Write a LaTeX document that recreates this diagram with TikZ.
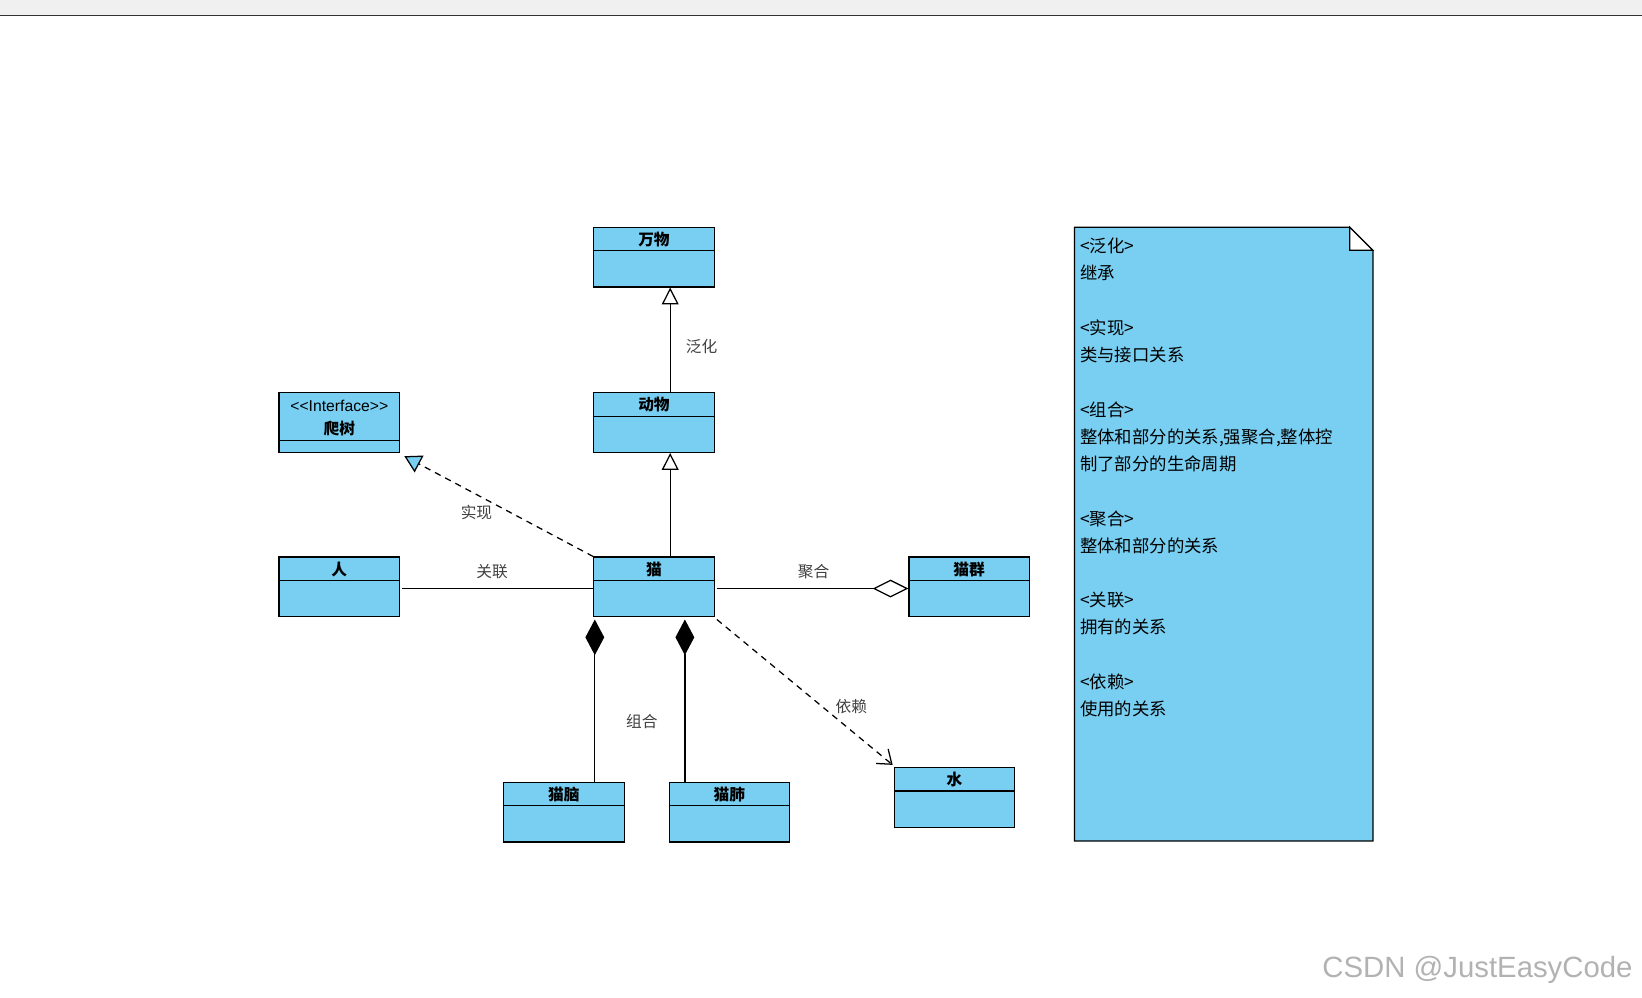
\documentclass[tikz,border=0pt]{standalone}
\usepackage{fontspec}
\setmainfont{Liberation Sans}
\newfontfamily\cjk{Noto Sans CJK SC}
\usetikzlibrary{arrows.meta,calc,shapes.geometric}
\definecolor{umlblue}{HTML}{79CFF2}
\begin{document}
\begin{tikzpicture}[x=0.5pt,y=-0.5pt,
  cls/.style={draw=black,fill=umlblue,line width=0.6pt,minimum width=57.5pt,minimum height=28.5pt,inner sep=0pt},
  ttl/.style={font=\cjk\fontsize{7.5}{8}\selectfont\bfseries},
  lbl/.style={font=\cjk\fontsize{7.5}{8}\selectfont,text=black!75},
  ln/.style={line width=0.6pt},
  dashln/.style={ln,dash pattern=on 3pt off 2.5pt}]
\useasboundingbox (0,0) rectangle (1568,953);
\fill[black!6] (0,0) rectangle (1568,15);
\draw[black!80,line width=0.6pt] (0,15) -- (1568,15);
% classes
\foreach \n/\cx/\cy/\t in {wanwu/624.5/245.5/万物, dongwu/624.5/403.5/动物, ren/324/560.5/人, mao/624.5/560.5/猫, maoqun/925.5/560.5/猫群, maonao/538.5/775.5/猫脑, maofei/696.5/775.5/猫肺, shui/911.5/761.5/水}{
  \node[cls] (\n) at (\cx,\cy) {};
  \draw[ln] ($(\n.north west)+(0,23)$) -- ($(\n.north east)+(0,23)$);
  \node[ttl] at ($(\n.north)+(0,12)$) {\t};
}
\node[cls] (pashu) at (324,403.5) {};
\draw[ln] ($(pashu.north west)+(0,46)$) -- ($(pashu.north east)+(0,46)$);
\node[font=\fontsize{7.5}{8}\selectfont] at ($(pashu.north)+(0,13)$) {{<}{<}Interface{>}{>}};
\node[ttl] at ($(pashu.north)+(0,35)$) {爬树};
% connectors
\draw[ln,-{Triangle[open,length=8pt,width=8pt]}] ($(dongwu.north)+(15.5,0)$) -- ($(wanwu.south)+(15.5,0)$);
\node[lbl] at (670,331) {泛化};
\draw[ln,-{Triangle[open,length=8pt,width=8pt]}] ($(mao.north)+(15.5,0)$) -- ($(dongwu.south)+(15.5,0)$);
\draw[dashln,-{Triangle[fill=umlblue,length=8pt,width=9pt]}] (mao.north west) -- ($(pashu.south east)+(4,3)$);
\node[lbl] at (455,489) {实现};
\draw[ln] ($(ren.east)+(2,1.5)$) -- ($(mao.west)+(0,1.5)$);
\node[lbl] at (470,546) {关联};
\draw[ln,-{Diamond[open,length=17pt,width=8.5pt]}] ($(mao.east)+(2,1.5)$) -- ($(maoqun.west)+(0,1.5)$);
\node[lbl] at (777,546) {聚合};
\draw[ln,-{Diamond[length=17pt,width=9pt]}] ($(maonao.north)+(29.5,0)$) -- ($(mao.south)+(-56.5,2)$);
\draw[ln,-{Diamond[length=17pt,width=9pt]}] ($(maofei.north)+(-42.5,0)$) -- ($(mao.south)+(29.5,2)$);
\node[lbl] at (613,689) {组合};
\draw[dashln,-{Straight Barb[length=6pt,width=9pt]}] ($(mao.south east)+(2,2)$) -- ($(shui.north west)+(-1,-2)$);
\node[lbl] at (813,675) {依赖};
% note
\draw[line width=0.6pt,fill=umlblue] (1026,217) -- (1289,217) -- (1311,239) -- (1311,803) -- (1026,803) -- cycle;
\draw[line width=0.6pt,fill=white] (1289,217) -- (1289,239) -- (1311,239) -- cycle;
\node[anchor=north west,align=left,inner sep=0pt,font=\cjk\fontsize{8.3}{13}\selectfont] (note) at (1031,227) {<泛化>\\继承\\[13pt]<实现>\\类与接口关系\\[13pt]<组合>\\整体和部分的关系,强聚合,整体控\\制了部分的生命周期\\[13pt]<聚合>\\整体和部分的关系\\[13pt]<关联>\\拥有的关系\\[13pt]<依赖>\\使用的关系};
\node[anchor=east,text=black!30,font=\fontsize{14}{16}\selectfont] at (1566,926) {CSDN @JustEasyCode};
\end{tikzpicture}
\end{document}
